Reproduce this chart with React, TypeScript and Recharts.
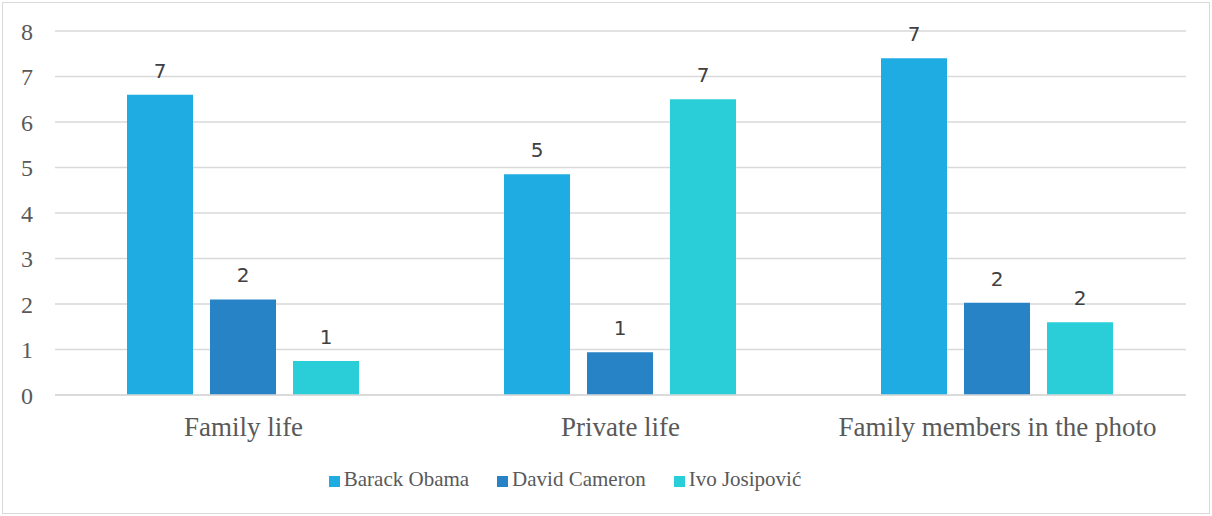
import { Bar, BarChart, CartesianGrid, LabelList, Legend, XAxis, YAxis } from "recharts";

const categories = ["Family life", "Private life", "Family members in the photo"];
const obama = [6.6, 4.85, 7.4];
const cameron = [2.1, 0.94, 2.03];
const josipovic = [0.75, 6.5, 1.6];
const yTicks = [0, 1, 2, 3, 4, 5, 6, 7, 8];

const series = [
  { key: "obama", name: "Barack Obama", color: "#1FACE3" },
  { key: "cameron", name: "David Cameron", color: "#2783C6" },
  { key: "josipovic", name: "Ivo Josipović", color: "#29CED8" },
];

const data = categories.map((c, i) => ({
  category: c,
  obama: obama[i],
  cameron: cameron[i],
  josipovic: josipovic[i],
}));

const SERIF = "'Liberation Serif', 'Times New Roman', serif";
const TEXT = "#595959";

export default function App() {
  return (
    <div style={{ position: "fixed", left: 0, top: 0, width: 1212, height: 516, background: "#fff" }}>
      <div
        style={{
          position: "absolute",
          left: 2,
          top: 2,
          width: 1206,
          height: 510,
          border: "1px solid #D9D9D9",
        }}
      />
      <BarChart
        width={1212}
        height={516}
        data={data}
        margin={{ top: 31, right: 26, left: 0, bottom: 40 }}
        barCategoryGap={72}
        barGap={17}
      >
        <CartesianGrid stroke="#D9D9D9" strokeWidth={1.5} vertical={false} />
        <XAxis
          dataKey="category"
          axisLine={{ stroke: "#D9D9D9", strokeWidth: 1.5 }}
          tickLine={false}
          height={56}
          tick={{ fontSize: 27, fill: TEXT, fontFamily: SERIF }}
          tickMargin={16}
        />
        <YAxis
          domain={[0, 8]}
          ticks={yTicks}
          width={55}
          axisLine={false}
          tickLine={false}
          tick={{ fontSize: 24, fill: TEXT, fontFamily: SERIF }}
          tickMargin={16}
        />
        <Legend
          verticalAlign="bottom"
          iconType="square"
          iconSize={11}
          wrapperStyle={{ bottom: 24, left: 0, width: 1158, fontFamily: SERIF, fontSize: 21 }}
          formatter={(v) => <span style={{ color: TEXT, marginRight: 18 }}>{v}</span>}
        />
        {series.map((s) => (
          <Bar key={s.key} dataKey={s.key} name={s.name} fill={s.color} isAnimationActive={false}>
            <LabelList
              dataKey={s.key}
              position="top"
              offset={17}
              formatter={(v: number) => Math.round(v)}
              style={{ fontSize: 20, fill: "#404040", fontFamily: "'DejaVu Sans', sans-serif" }}
            />
          </Bar>
        ))}
      </BarChart>
    </div>
  );
}
